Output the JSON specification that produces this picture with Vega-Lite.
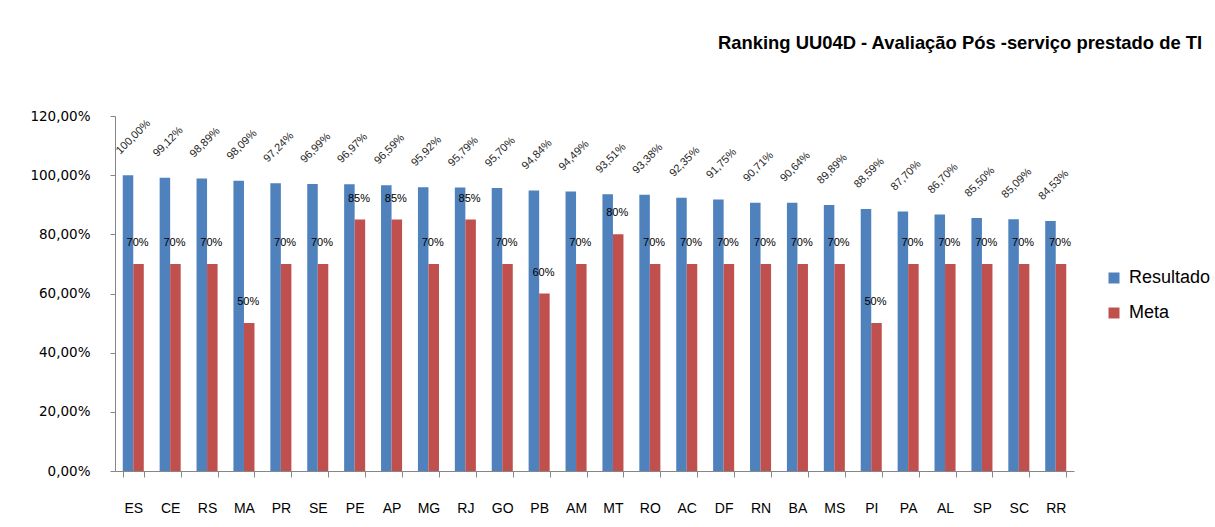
{
  "$schema": "https://vega.github.io/schema/vega-lite/v6.json",
  "width": 959,
  "height": 355,
  "autosize": {"type": "none"},
  "padding": {"left": 115, "top": 116, "right": 141, "bottom": 56},
  "background": "white",
  "title": {
    "text": "Ranking UU04D - Avaliação Pós -serviço prestado de TI",
    "anchor": "start",
    "frame": "group",
    "dx": 603,
    "offset": 42,
    "baseline": "alphabetic",
    "font": "Liberation Sans",
    "fontSize": 18.4,
    "fontWeight": "bold",
    "color": "#000000"
  },
  "config": {
    "locale": {"number": {"decimal": ",", "thousands": ".", "grouping": [3], "currency": ["R$", ""]}},
    "view": {"stroke": null},
    "font": "Liberation Sans"
  },
  "data": {
    "values": [
      {"uf": "ES", "serie": "Resultado", "valor": 1.0},
      {"uf": "ES", "serie": "Meta", "valor": 0.7},
      {"uf": "CE", "serie": "Resultado", "valor": 0.9912},
      {"uf": "CE", "serie": "Meta", "valor": 0.7},
      {"uf": "RS", "serie": "Resultado", "valor": 0.9889},
      {"uf": "RS", "serie": "Meta", "valor": 0.7},
      {"uf": "MA", "serie": "Resultado", "valor": 0.9809},
      {"uf": "MA", "serie": "Meta", "valor": 0.5},
      {"uf": "PR", "serie": "Resultado", "valor": 0.9724},
      {"uf": "PR", "serie": "Meta", "valor": 0.7},
      {"uf": "SE", "serie": "Resultado", "valor": 0.9699},
      {"uf": "SE", "serie": "Meta", "valor": 0.7},
      {"uf": "PE", "serie": "Resultado", "valor": 0.9697},
      {"uf": "PE", "serie": "Meta", "valor": 0.85},
      {"uf": "AP", "serie": "Resultado", "valor": 0.9659},
      {"uf": "AP", "serie": "Meta", "valor": 0.85},
      {"uf": "MG", "serie": "Resultado", "valor": 0.9592},
      {"uf": "MG", "serie": "Meta", "valor": 0.7},
      {"uf": "RJ", "serie": "Resultado", "valor": 0.9579},
      {"uf": "RJ", "serie": "Meta", "valor": 0.85},
      {"uf": "GO", "serie": "Resultado", "valor": 0.957},
      {"uf": "GO", "serie": "Meta", "valor": 0.7},
      {"uf": "PB", "serie": "Resultado", "valor": 0.9484},
      {"uf": "PB", "serie": "Meta", "valor": 0.6},
      {"uf": "AM", "serie": "Resultado", "valor": 0.9449},
      {"uf": "AM", "serie": "Meta", "valor": 0.7},
      {"uf": "MT", "serie": "Resultado", "valor": 0.9351},
      {"uf": "MT", "serie": "Meta", "valor": 0.8},
      {"uf": "RO", "serie": "Resultado", "valor": 0.9338},
      {"uf": "RO", "serie": "Meta", "valor": 0.7},
      {"uf": "AC", "serie": "Resultado", "valor": 0.9235},
      {"uf": "AC", "serie": "Meta", "valor": 0.7},
      {"uf": "DF", "serie": "Resultado", "valor": 0.9175},
      {"uf": "DF", "serie": "Meta", "valor": 0.7},
      {"uf": "RN", "serie": "Resultado", "valor": 0.9071},
      {"uf": "RN", "serie": "Meta", "valor": 0.7},
      {"uf": "BA", "serie": "Resultado", "valor": 0.9064},
      {"uf": "BA", "serie": "Meta", "valor": 0.7},
      {"uf": "MS", "serie": "Resultado", "valor": 0.8989},
      {"uf": "MS", "serie": "Meta", "valor": 0.7},
      {"uf": "PI", "serie": "Resultado", "valor": 0.8859},
      {"uf": "PI", "serie": "Meta", "valor": 0.5},
      {"uf": "PA", "serie": "Resultado", "valor": 0.877},
      {"uf": "PA", "serie": "Meta", "valor": 0.7},
      {"uf": "AL", "serie": "Resultado", "valor": 0.867},
      {"uf": "AL", "serie": "Meta", "valor": 0.7},
      {"uf": "SP", "serie": "Resultado", "valor": 0.855},
      {"uf": "SP", "serie": "Meta", "valor": 0.7},
      {"uf": "SC", "serie": "Resultado", "valor": 0.8509},
      {"uf": "SC", "serie": "Meta", "valor": 0.7},
      {"uf": "RR", "serie": "Resultado", "valor": 0.8453},
      {"uf": "RR", "serie": "Meta", "valor": 0.7}
    ]
  },
  "encoding": {
    "x": {
      "field": "uf",
      "type": "nominal",
      "sort": null,
      "scale": {"paddingInner": 0.43, "paddingOuter": 0.21},
      "axis": {
        "title": null,
        "labelAngle": 0,
        "labelFont": "Liberation Sans",
        "labelFontSize": 14,
        "labelColor": "#000000",
        "labelPadding": 24,
        "tickBand": "extent",
        "tickSize": 6,
        "tickColor": "#868686",
        "domainColor": "#868686",
        "grid": false
      }
    },
    "xOffset": {"field": "serie", "type": "nominal", "sort": ["Resultado", "Meta"], "scale": {"paddingInner": 0, "paddingOuter": 0}},
    "y": {
      "field": "valor",
      "type": "quantitative",
      "scale": {"domain": [0, 1.2], "nice": false},
      "axis": {
        "title": null,
        "format": ".2%",
        "values": [0, 0.2, 0.4, 0.6, 0.8, 1.0, 1.2],
        "labelFont": "DejaVu Sans",
        "labelFontSize": 13.5,
        "labelColor": "#000000",
        "labelPadding": 20,
        "tickSize": 5,
        "tickColor": "#868686",
        "domainColor": "#868686",
        "grid": false
      }
    }
  },
  "layer": [
    {
      "mark": {"type": "bar"},
      "encoding": {
        "color": {
          "field": "serie",
          "type": "nominal",
          "scale": {"domain": ["Resultado", "Meta"], "range": ["#4F81BD", "#C0504D"]},
          "legend": {
            "title": null,
            "orient": "none",
            "legendX": 990,
            "legendY": 153,
            "padding": 0,
            "symbolType": "square",
            "symbolSize": 121,
            "symbolStrokeWidth": 0,
            "labelFont": "Liberation Sans",
            "labelFontSize": 18,
            "labelColor": "#000000",
            "labelOffset": 6,
            "rowPadding": 17
          }
        }
      }
    },
    {
      "transform": [{"filter": "datum.serie == 'Resultado'"}],
      "mark": {"type": "text", "angle": -45, "align": "left", "baseline": "alphabetic", "dx": 9, "dy": -20, "fontSize": 11, "color": "#262626", "font": "Liberation Sans"},
      "encoding": {"text": {"field": "valor", "type": "quantitative", "format": ".2%"}}
    },
    {
      "transform": [{"filter": "datum.serie == 'Meta'"}],
      "mark": {"type": "text", "align": "center", "baseline": "middle", "dx": -1, "dy": -21, "fontSize": 11, "color": "#000000", "font": "Liberation Sans"},
      "encoding": {"text": {"field": "valor", "type": "quantitative", "format": ".0%"}}
    }
  ]
}
